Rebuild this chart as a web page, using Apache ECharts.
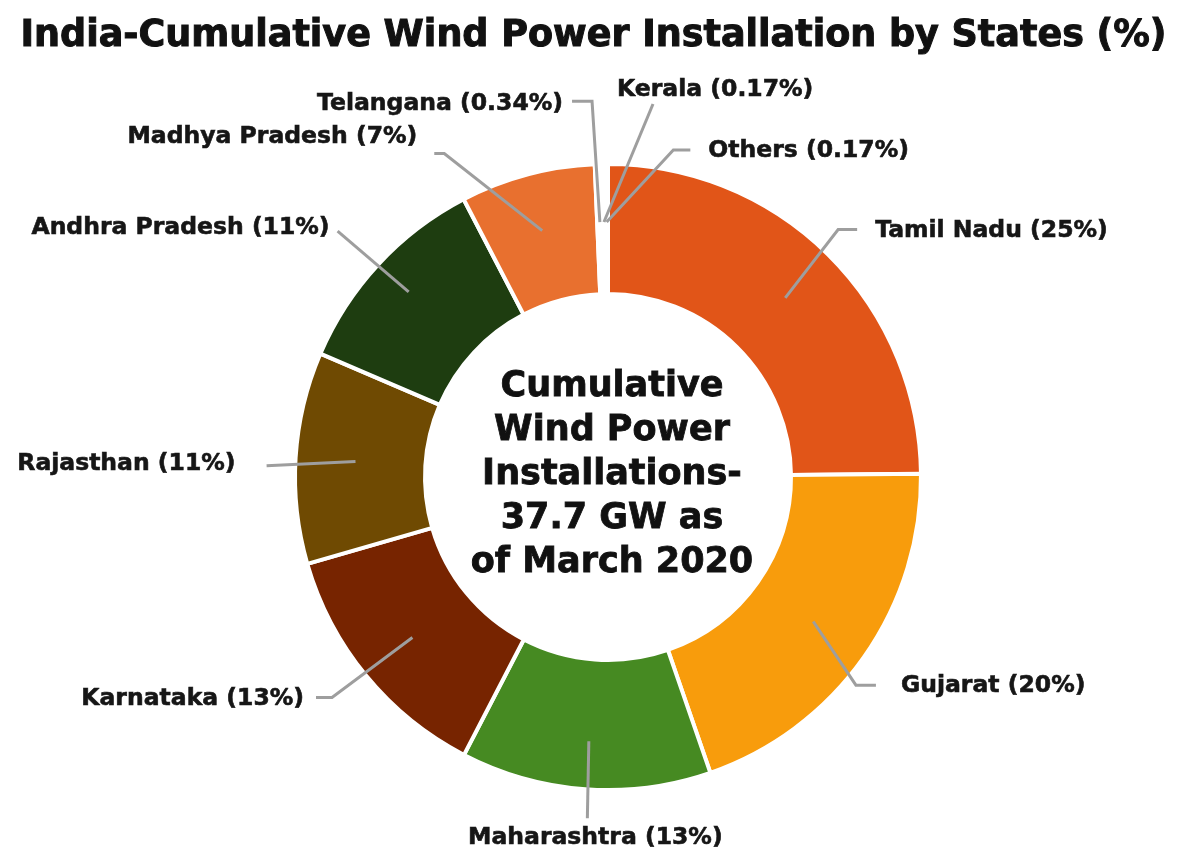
<!DOCTYPE html>
<html>
<head>
<meta charset="utf-8">
<script src="https://cdn.jsdelivr.net/npm/echarts@6/dist/echarts.min.js"></script>
<style>
html,body{margin:0;padding:0;background:#fff;}
#chart{width:1187px;height:860px;}
</style>
</head>
<body>
<div id="chart"></div>
<script>
// ---- data ----
const states = ['Tamil Nadu', 'Gujarat', 'Maharashtra', 'Karnataka', 'Rajasthan', 'Andhra Pradesh', 'Madhya Pradesh', 'Telangana', 'Kerala', 'Others'];
const shares = [25, 20, 13, 13, 11, 11, 7, 0.34, 0.17, 0.17];
const shareLabels = ['25%', '20%', '13%', '13%', '11%', '11%', '7%', '0.34%', '0.17%', '0.17%'];
const titleText = 'India-Cumulative Wind Power Installation by States (%)';
const centerText = 'Cumulative\nWind Power\nInstallations-\n37.7 GW as\nof March 2020';

// ---- styles ----
const colors = ['#E15518', '#F89C0C', '#468A22', '#772400', '#6F4A02', '#1E3D10', '#E8702F', '#FFFFFF', '#FFFFFF', '#FFFFFF'];
const FONT = '"DejaVu Sans", "Noto Sans", sans-serif';
// label-line geometry (style): inset from outer edge, elbow offset, horizontal run, label offset
const labelGeom = [
  {inset: 61, elbow: [10, -25], h: 19, lab: [18, 1], align: 'left'},
  {inset: 62, elbow: [-8, 28], h: 20, lab: [25, 1], align: 'left'},
  {inset: 48, elbow: [2, 29], h: 0, lab: [8, 8], align: 'center', va: 'top'},
  {inset: 60, elbow: [-34, 22], h: -16, lab: [-12, 1], align: 'right'},
  {inset: 60, elbow: [-29, 8], h: 0, lab: [-31, -2], align: 'right'},
  {inset: 41, elbow: [-41, -33], h: 0, lab: [-8, -3], align: 'right'},
  {inset: 58, elbow: [-83, -21], h: -10, lab: [-17, -17], align: 'right'},
  {inset: 58, elbow: [-6, -63], h: -20, lab: [-9, 3], align: 'right'},
  {inset: 58, elbow: [50, -60], h: 0, lab: [-36, -14], align: 'left'},
  {inset: 58, elbow: [67, -14], h: 17, lab: [18, 1], align: 'left'}
];

const chart = echarts.init(document.getElementById('chart'), null, {renderer: 'canvas'});
const pieData = states.map((s, i) => ({
  name: s,
  value: shares[i],
  itemStyle: {color: colors[i]}
}));
const labelData = states.map((s, i) => ({name: s, value: shares[i]}));

const CENTER = [608, 477];
const RADIUS = [183, 313];

chart.setOption({
  animation: false,
  backgroundColor: '#ffffff',
  title: {
    text: titleText,
    left: 'center',
    top: 13,
    textStyle: {fontFamily: FONT, fontWeight: 'bold', fontSize: 36.5, color: '#111111',
      textBorderColor: '#111111', textBorderWidth: 1}
  },
  graphic: [{
    type: 'text',
    z: 10,
    style: {
      text: centerText,
      x: 612, y: 475,
      align: 'center',
      verticalAlign: 'middle',
      font: 'bold 35px ' + FONT,
      lineHeight: 44,
      fill: '#111111',
      stroke: '#111111',
      lineWidth: 0.8
    }
  }],
  series: [{
    type: 'pie',
    z: 2,
    center: CENTER,
    radius: RADIUS,
    startAngle: 90,
    clockwise: true,
    silent: true,
    emphasis: {disabled: true},
    itemStyle: {borderColor: '#ffffff', borderWidth: 4},
    label: {show: false},
    labelLine: {show: false},
    data: pieData
  }, {
    type: 'pie',
    z: 5,
    center: CENTER,
    radius: RADIUS,
    startAngle: 90,
    clockwise: true,
    silent: true,
    avoidLabelOverlap: false,
    emphasis: {disabled: true},
    itemStyle: {color: 'rgba(0,0,0,0)', borderWidth: 0},
    label: {
      show: true,
      position: 'outside',
      formatter: p => p.name + ' (' + shareLabels[p.dataIndex] + ')',
      fontFamily: FONT,
      fontWeight: 'bold',
      fontSize: 23.5,
      color: '#161616',
      textBorderColor: '#161616',
      textBorderWidth: 0.6
    },
    labelLine: {
      show: true,
      length: 10,
      length2: 10,
      lineStyle: {color: '#9e9e9e', width: 3}
    },
    labelLayout: function (p) {
      const g = labelGeom[p.dataIndex];
      const pts = p.labelLinePoints;
      if (!g || !pts || pts.length < 2) return {};
      const p0 = pts[0], p1 = pts[1];
      let nx = p1[0] - p0[0], ny = p1[1] - p0[1];
      const L = Math.hypot(nx, ny) || 1;
      nx /= L; ny /= L;
      const s = [p0[0] - nx * g.inset, p0[1] - ny * g.inset];
      const e = [p0[0] + g.elbow[0], p0[1] + g.elbow[1]];
      const end = [e[0] + g.h, e[1]];
      return {
        x: end[0] + g.lab[0],
        y: end[1] + g.lab[1],
        align: g.align,
        verticalAlign: g.va || 'middle',
        labelLinePoints: [s, e, end]
      };
    },
    data: labelData
  }]
});
</script>
</body>
</html>
